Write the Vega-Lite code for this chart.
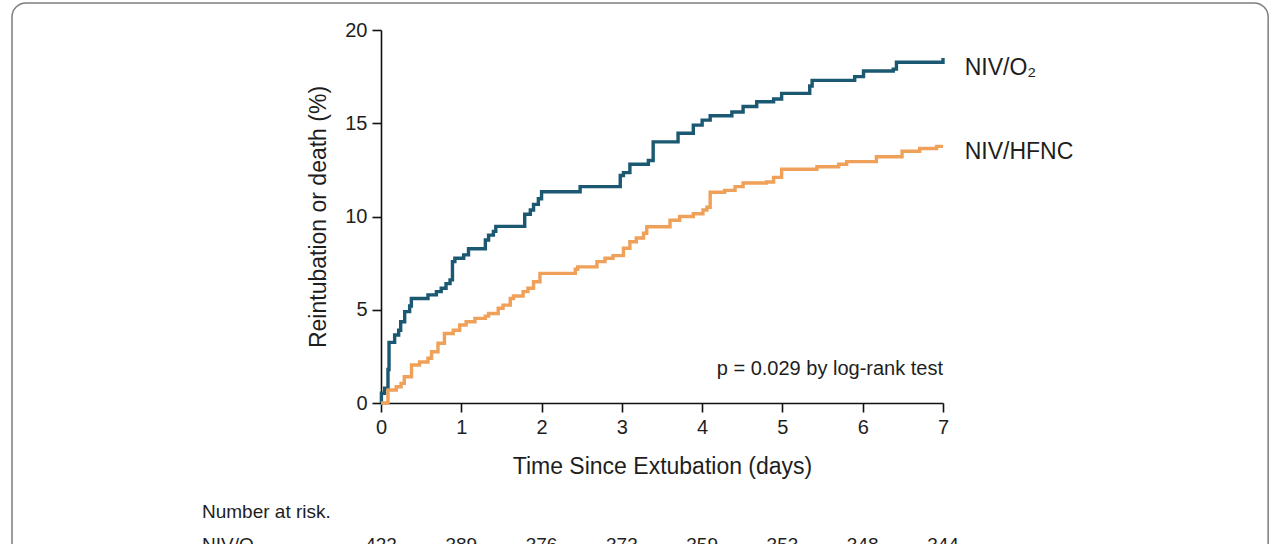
{
  "$schema": "https://vega.github.io/schema/vega-lite/v6.json",
  "width": 562,
  "height": 373,
  "autosize": {"type": "none"},
  "padding": {"left": 381, "top": 30, "right": 337, "bottom": 141},
  "background": "white",
  "config": {
    "view": {"stroke": null},
    "font": "Liberation Sans",
    "text": {"font": "Liberation Sans", "color": "#1e1e1e"}
  },
  "datasets": {
    "curves": [
      {"group": "NIV/O2", "t": 0, "pct": 0},
      {"group": "NIV/O2", "t": 0.005, "pct": 0.52},
      {"group": "NIV/O2", "t": 0.046, "pct": 0.79},
      {"group": "NIV/O2", "t": 0.087, "pct": 1.8},
      {"group": "NIV/O2", "t": 0.1, "pct": 3.25},
      {"group": "NIV/O2", "t": 0.17, "pct": 3.65},
      {"group": "NIV/O2", "t": 0.22, "pct": 3.9},
      {"group": "NIV/O2", "t": 0.245, "pct": 4.36},
      {"group": "NIV/O2", "t": 0.295, "pct": 4.9},
      {"group": "NIV/O2", "t": 0.357, "pct": 5.2},
      {"group": "NIV/O2", "t": 0.378, "pct": 5.6},
      {"group": "NIV/O2", "t": 0.585, "pct": 5.8},
      {"group": "NIV/O2", "t": 0.69, "pct": 5.97},
      {"group": "NIV/O2", "t": 0.75, "pct": 6.15},
      {"group": "NIV/O2", "t": 0.81, "pct": 6.4},
      {"group": "NIV/O2", "t": 0.86, "pct": 6.6},
      {"group": "NIV/O2", "t": 0.89, "pct": 7.58},
      {"group": "NIV/O2", "t": 0.92, "pct": 7.76},
      {"group": "NIV/O2", "t": 1.03, "pct": 7.94},
      {"group": "NIV/O2", "t": 1.09, "pct": 8.27},
      {"group": "NIV/O2", "t": 1.3, "pct": 8.74},
      {"group": "NIV/O2", "t": 1.34, "pct": 9.0},
      {"group": "NIV/O2", "t": 1.4, "pct": 9.2},
      {"group": "NIV/O2", "t": 1.43, "pct": 9.47},
      {"group": "NIV/O2", "t": 1.79, "pct": 10.12},
      {"group": "NIV/O2", "t": 1.86, "pct": 10.35},
      {"group": "NIV/O2", "t": 1.9, "pct": 10.65},
      {"group": "NIV/O2", "t": 1.96, "pct": 10.95},
      {"group": "NIV/O2", "t": 2.0, "pct": 11.33},
      {"group": "NIV/O2", "t": 2.48, "pct": 11.6},
      {"group": "NIV/O2", "t": 2.98, "pct": 12.2},
      {"group": "NIV/O2", "t": 3.02, "pct": 12.35},
      {"group": "NIV/O2", "t": 3.1, "pct": 12.8},
      {"group": "NIV/O2", "t": 3.33, "pct": 13.0},
      {"group": "NIV/O2", "t": 3.39, "pct": 14.0},
      {"group": "NIV/O2", "t": 3.7, "pct": 14.46},
      {"group": "NIV/O2", "t": 3.89, "pct": 14.9},
      {"group": "NIV/O2", "t": 4.0, "pct": 15.17},
      {"group": "NIV/O2", "t": 4.1, "pct": 15.4},
      {"group": "NIV/O2", "t": 4.37, "pct": 15.6},
      {"group": "NIV/O2", "t": 4.51, "pct": 15.9},
      {"group": "NIV/O2", "t": 4.68, "pct": 16.15},
      {"group": "NIV/O2", "t": 4.89, "pct": 16.3},
      {"group": "NIV/O2", "t": 4.99, "pct": 16.6},
      {"group": "NIV/O2", "t": 5.34, "pct": 17.0},
      {"group": "NIV/O2", "t": 5.37, "pct": 17.3},
      {"group": "NIV/O2", "t": 5.9, "pct": 17.5},
      {"group": "NIV/O2", "t": 6.01, "pct": 17.8},
      {"group": "NIV/O2", "t": 6.38, "pct": 17.9},
      {"group": "NIV/O2", "t": 6.42, "pct": 18.27},
      {"group": "NIV/O2", "t": 6.995, "pct": 18.27},
      {"group": "NIV/O2", "t": 7.0, "pct": 18.5},
      {"group": "NIV/HFNC", "t": 0, "pct": 0},
      {"group": "NIV/HFNC", "t": 0.087, "pct": 0.7},
      {"group": "NIV/HFNC", "t": 0.19, "pct": 0.87},
      {"group": "NIV/HFNC", "t": 0.25, "pct": 1.05},
      {"group": "NIV/HFNC", "t": 0.29, "pct": 1.41},
      {"group": "NIV/HFNC", "t": 0.38, "pct": 2.04},
      {"group": "NIV/HFNC", "t": 0.48, "pct": 2.2},
      {"group": "NIV/HFNC", "t": 0.585, "pct": 2.4},
      {"group": "NIV/HFNC", "t": 0.63, "pct": 2.75},
      {"group": "NIV/HFNC", "t": 0.71, "pct": 3.2},
      {"group": "NIV/HFNC", "t": 0.79, "pct": 3.73},
      {"group": "NIV/HFNC", "t": 0.9, "pct": 3.9},
      {"group": "NIV/HFNC", "t": 0.98, "pct": 4.18},
      {"group": "NIV/HFNC", "t": 1.06, "pct": 4.36},
      {"group": "NIV/HFNC", "t": 1.17, "pct": 4.54},
      {"group": "NIV/HFNC", "t": 1.3, "pct": 4.66},
      {"group": "NIV/HFNC", "t": 1.34, "pct": 4.8},
      {"group": "NIV/HFNC", "t": 1.46, "pct": 5.08},
      {"group": "NIV/HFNC", "t": 1.52, "pct": 5.25},
      {"group": "NIV/HFNC", "t": 1.61, "pct": 5.6},
      {"group": "NIV/HFNC", "t": 1.65, "pct": 5.74},
      {"group": "NIV/HFNC", "t": 1.77, "pct": 5.97},
      {"group": "NIV/HFNC", "t": 1.83, "pct": 6.15},
      {"group": "NIV/HFNC", "t": 1.9, "pct": 6.5},
      {"group": "NIV/HFNC", "t": 1.98, "pct": 6.95},
      {"group": "NIV/HFNC", "t": 2.42, "pct": 7.17},
      {"group": "NIV/HFNC", "t": 2.45, "pct": 7.3},
      {"group": "NIV/HFNC", "t": 2.69, "pct": 7.58},
      {"group": "NIV/HFNC", "t": 2.79, "pct": 7.76},
      {"group": "NIV/HFNC", "t": 2.89, "pct": 7.9},
      {"group": "NIV/HFNC", "t": 3.02, "pct": 8.3},
      {"group": "NIV/HFNC", "t": 3.1, "pct": 8.65},
      {"group": "NIV/HFNC", "t": 3.18, "pct": 8.85},
      {"group": "NIV/HFNC", "t": 3.27, "pct": 9.1},
      {"group": "NIV/HFNC", "t": 3.31, "pct": 9.45},
      {"group": "NIV/HFNC", "t": 3.6, "pct": 9.8},
      {"group": "NIV/HFNC", "t": 3.72, "pct": 10.0},
      {"group": "NIV/HFNC", "t": 3.89, "pct": 10.15},
      {"group": "NIV/HFNC", "t": 4.01, "pct": 10.35},
      {"group": "NIV/HFNC", "t": 4.06, "pct": 10.5},
      {"group": "NIV/HFNC", "t": 4.1, "pct": 11.3},
      {"group": "NIV/HFNC", "t": 4.28, "pct": 11.4},
      {"group": "NIV/HFNC", "t": 4.41, "pct": 11.6},
      {"group": "NIV/HFNC", "t": 4.51, "pct": 11.8},
      {"group": "NIV/HFNC", "t": 4.8, "pct": 11.85},
      {"group": "NIV/HFNC", "t": 4.89, "pct": 12.1},
      {"group": "NIV/HFNC", "t": 4.99, "pct": 12.53},
      {"group": "NIV/HFNC", "t": 5.43, "pct": 12.67},
      {"group": "NIV/HFNC", "t": 5.7, "pct": 12.8},
      {"group": "NIV/HFNC", "t": 5.8, "pct": 12.94},
      {"group": "NIV/HFNC", "t": 6.17, "pct": 13.2},
      {"group": "NIV/HFNC", "t": 6.49, "pct": 13.5},
      {"group": "NIV/HFNC", "t": 6.71, "pct": 13.65},
      {"group": "NIV/HFNC", "t": 6.92, "pct": 13.76},
      {"group": "NIV/HFNC", "t": 7.0, "pct": 13.76}
    ],
    "risk": [
      {"t": 0, "n": 422},
      {"t": 1, "n": 389},
      {"t": 2, "n": 376},
      {"t": 3, "n": 373},
      {"t": 4, "n": 359},
      {"t": 5, "n": 353},
      {"t": 6, "n": 348},
      {"t": 7, "n": 344}
    ]
  },
  "layer": [
    {
      "data": {"name": "curves"},
      "mark": {"type": "line", "interpolate": "step-after", "strokeWidth": 3.4, "clip": false},
      "encoding": {
        "x": {
          "field": "t", "type": "quantitative",
          "scale": {"domain": [0, 7], "nice": false, "zero": false},
          "axis": {
            "title": "Time Since Extubation (days)",
            "values": [0, 1, 2, 3, 4, 5, 6, 7],
            "format": "d",
            "labelFlush": false,
            "grid": false,
            "domainColor": "#111", "domainWidth": 1.6,
            "tickColor": "#111", "tickWidth": 1.6, "tickSize": 9,
            "labelFont": "Liberation Sans", "labelFontSize": 20, "labelColor": "#1e1e1e", "labelPadding": 5,
            "titleFont": "Liberation Sans", "titleFontSize": 23, "titleFontWeight": "normal", "titleColor": "#1e1e1e", "titlePadding": 18
          }
        },
        "y": {
          "field": "pct", "type": "quantitative",
          "scale": {"domain": [0, 20], "nice": false, "zero": false},
          "axis": {
            "title": "Reintubation or death (%)",
            "values": [0, 5, 10, 15, 20],
            "format": "d",
            "labelFlush": false,
            "grid": false,
            "domainColor": "#111", "domainWidth": 1.6,
            "tickColor": "#111", "tickWidth": 1.6, "tickSize": 9,
            "labelFont": "Liberation Sans", "labelFontSize": 20, "labelColor": "#1e1e1e", "labelPadding": 5,
            "titleFont": "Liberation Sans", "titleFontSize": 23, "titleFontWeight": "normal", "titleColor": "#1e1e1e", "titlePadding": 14
          }
        },
        "color": {
          "field": "group", "type": "nominal",
          "scale": {"domain": ["NIV/O2", "NIV/HFNC"], "range": ["#1b5872", "#efa159"]},
          "legend": null
        },
        "detail": {"field": "group"}
      }
    },
    {
      "data": {"values": [{"frame": "border"}]},
      "mark": {"type": "rect", "filled": false, "stroke": "#7d7d7d", "strokeWidth": 1.5, "cornerRadius": 14, "clip": false},
      "encoding": {
        "x": {"datum": -4.596, "type": "quantitative", "scale": {"domain": [0, 7], "nice": false, "zero": false}},
        "x2": {"datum": 11.05},
        "y": {"datum": 21.45, "type": "quantitative", "scale": {"domain": [0, 20], "nice": false, "zero": false}},
        "y2": {"datum": -12}
      }
    },
    {
      "data": {"values": [{"label": "NIV/O₂"}]},
      "mark": {"type": "text", "align": "left", "baseline": "middle", "fontSize": 23, "clip": false},
      "encoding": {
        "x": {"datum": 7.27, "type": "quantitative", "scale": {"domain": [0, 7], "nice": false, "zero": false}},
        "y": {"datum": 17.96, "type": "quantitative", "scale": {"domain": [0, 20], "nice": false, "zero": false}},
        "text": {"field": "label"}
      }
    },
    {
      "data": {"values": [{"label": "NIV/HFNC"}]},
      "mark": {"type": "text", "align": "left", "baseline": "middle", "fontSize": 23, "clip": false},
      "encoding": {
        "x": {"datum": 7.27, "type": "quantitative", "scale": {"domain": [0, 7], "nice": false, "zero": false}},
        "y": {"datum": 13.46, "type": "quantitative", "scale": {"domain": [0, 20], "nice": false, "zero": false}},
        "text": {"field": "label"}
      }
    },
    {
      "data": {"values": [{"label": "p = 0.029 by log-rank test"}]},
      "mark": {"type": "text", "align": "right", "baseline": "middle", "fontSize": 20, "clip": false},
      "encoding": {
        "x": {"datum": 7.0, "type": "quantitative", "scale": {"domain": [0, 7], "nice": false, "zero": false}},
        "y": {"datum": 1.82, "type": "quantitative", "scale": {"domain": [0, 20], "nice": false, "zero": false}},
        "text": {"field": "label"}
      }
    },
    {
      "data": {"values": [{"label": "Number at risk."}]},
      "mark": {"type": "text", "align": "left", "baseline": "middle", "fontSize": 19, "clip": false},
      "encoding": {
        "x": {"datum": -2.23, "type": "quantitative", "scale": {"domain": [0, 7], "nice": false, "zero": false}},
        "y": {"datum": -5.84, "type": "quantitative", "scale": {"domain": [0, 20], "nice": false, "zero": false}},
        "text": {"field": "label"}
      }
    },
    {
      "data": {"values": [{"label": "NIV/O₂"}]},
      "mark": {"type": "text", "align": "left", "baseline": "middle", "fontSize": 19, "clip": false},
      "encoding": {
        "x": {"datum": -2.23, "type": "quantitative", "scale": {"domain": [0, 7], "nice": false, "zero": false}},
        "y": {"datum": -7.6, "type": "quantitative", "scale": {"domain": [0, 20], "nice": false, "zero": false}},
        "text": {"field": "label"}
      }
    },
    {
      "data": {"name": "risk"},
      "mark": {"type": "text", "align": "center", "baseline": "middle", "fontSize": 19, "clip": false},
      "encoding": {
        "x": {"field": "t", "type": "quantitative", "scale": {"domain": [0, 7], "nice": false, "zero": false}},
        "y": {"datum": -7.6, "type": "quantitative", "scale": {"domain": [0, 20], "nice": false, "zero": false}},
        "text": {"field": "n", "type": "quantitative"}
      }
    }
  ]
}
